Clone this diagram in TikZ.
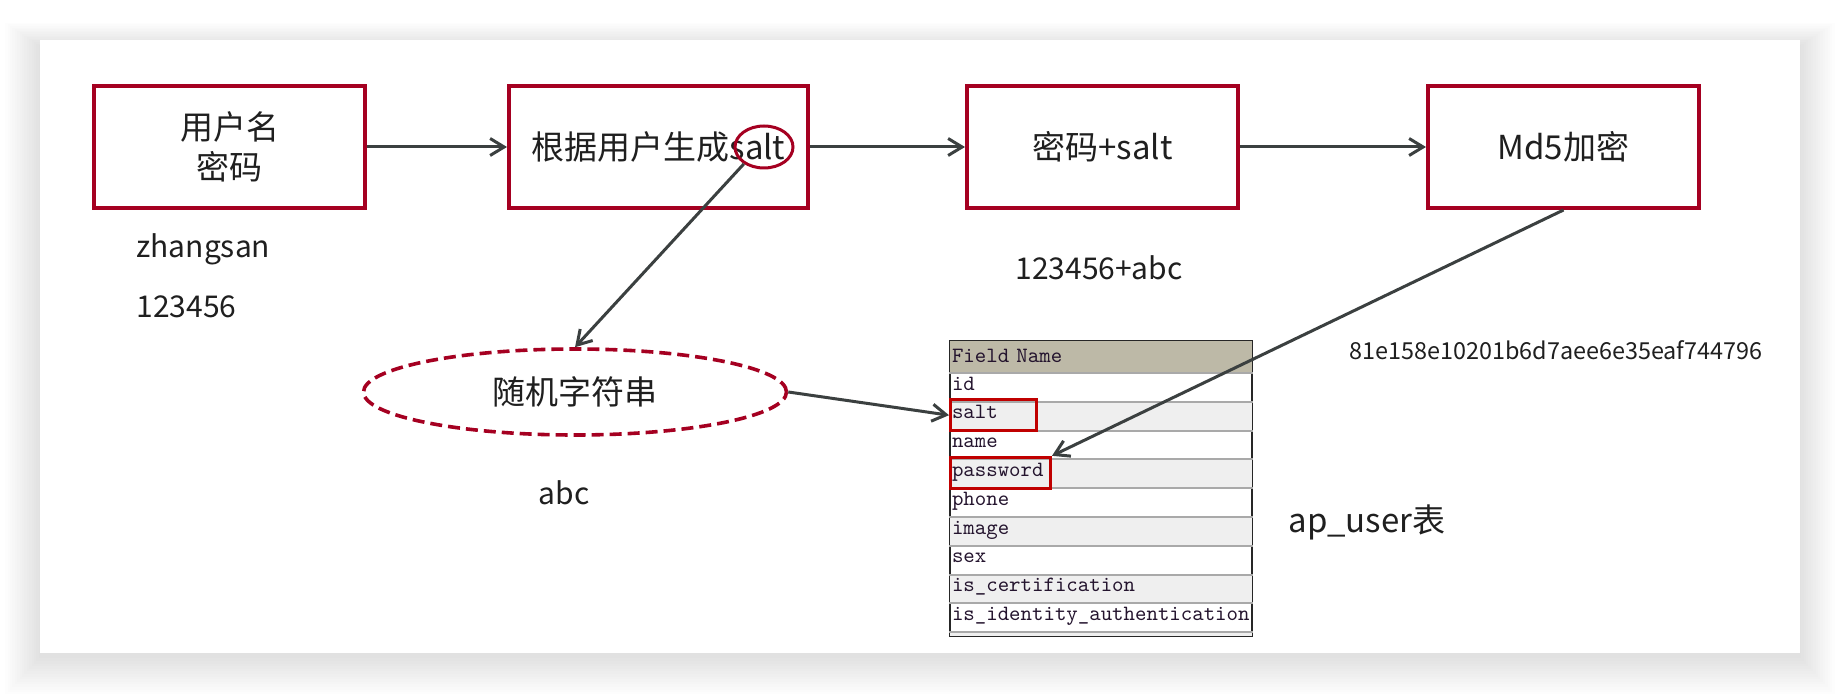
\documentclass[tikz,border=0pt]{standalone}
\usepackage{fontspec}
\setmainfont{Noto Sans CJK SC}
\usepackage{xcolor}
\usetikzlibrary{arrows.meta}
\usetikzlibrary{matrix}
\usetikzlibrary{shapes.geometric}
\definecolor{boxred}{HTML}{A50021}
\definecolor{markred}{HTML}{C00000}
\definecolor{linegray}{HTML}{3B4040}
\definecolor{headfill}{HTML}{BDB9A7}
\definecolor{rowfill}{HTML}{EFEFEF}
\definecolor{rowgray}{HTML}{A9A9A9}
\definecolor{fieldink}{HTML}{24142E}
\colorlet{inkcolor}{black!88}
\newcommand\stagefont{\fontsize{16.5}{20}\selectfont\color{inkcolor}}
\newcommand\notefont{\fontsize{15}{18}\selectfont\color{inkcolor}}
\newcommand\hashfont{\fontsize{11.7}{14}\selectfont\color{inkcolor}}
\newcommand\fieldfont{\fontsize{10.9}{12}\ttfamily\color{fieldink}}
\tikzstyle{stage}=[draw=boxred,line width=2pt,fill=white,minimum width=135.5pt,minimum height=61pt,inner sep=0pt,align=center,font=\stagefont]
\tikzstyle{ring}=[ellipse,draw=boxred,line width=1.5pt,minimum width=29pt,minimum height=21pt,inner sep=0pt]
\tikzstyle{randnode}=[ellipse,draw=boxred,dashed,dash pattern=on 6pt off 3pt,line width=1.8pt,fill=white,minimum width=211.5pt,minimum height=43pt,inner sep=0pt,font=\stagefont]
\tikzstyle{note}=[inner sep=0pt,font=\notefont]
\tikzstyle{hashnote}=[inner sep=0pt,font=\hashfont]
\tikzstyle{flowhead}=[>/.tip={Straight Barb[length=7pt,width=8.5pt]}]
\tikzstyle{flow}=[draw=linegray,line width=1.5pt,flowhead,->]
\tikzstyle{field}=[text width=149pt,align=left,inner xsep=1pt,inner ysep=0pt,text height=9pt,text depth=5.4pt,font=\fieldfont]
\tikzstyle{fieldhead}=[fill=headfill,text height=10.5pt,text depth=5pt]
\tikzstyle{alt}=[fill=rowfill]
\tikzstyle{tail}=[fill=rowfill,text height=0pt,text depth=2.5pt]
\tikzstyle{fieldtab}=[matrix of nodes,inner sep=0pt,row sep=0pt,draw=black!85,line width=1pt,nodes={field}]
\tikzstyle{hilite}=[draw=markred,line width=1.5pt,minimum height=15.5pt,inner sep=0pt]

\begin{document}
\begin{tikzpicture}[x=0.5pt,y=-0.5pt]
	\useasboundingbox (0,0) rectangle (1840,694);
	\fill[white] (0,0) rectangle (1840,694);
	% soft shadow of the sheet
	\foreach \d in {1,3,...,29}
		\fill[black,opacity=0.006] (40-1.2*\d,40-0.8*\d+6) rectangle (1800+1.2*\d,657+1.3*\d);
	\fill[white] (40,40) rectangle (1800,653);

	% top row
	\node[stage] (user) at (229.5,147) {用户名\\密码};
	\node[stage,minimum width=149.5pt] (gen) at (658.5,147) {根据用户生成salt};
	\node[stage] (mix) at (1102.5,147) {密码+salt};
	\node[stage] (md5) at (1563.5,147) {Md5加密};
	\node[ring] (ring) at (764,147) {};
	\draw[flow] (user) -- (gen);
	\draw[flow] (gen) -- (mix);
	\draw[flow] (mix) -- (md5);

	\node[note,anchor=base west] (uname) at (136,258) {zhangsan};
	\node[note,anchor=base west] (upass) at (136,318) {123456};
	\node[note,anchor=base west] (mixval) at (1015,280) {123456+abc};
	\node[hashnote,anchor=base west] (hashval) at (1349,360) {81e158e10201b6d7aee6e35eaf744796};

	\node[randnode] (rand) at (575,392) {随机字符串};
	\node[note,anchor=base] (randval) at (564,504) {abc};

	% ap_user
	\matrix[fieldtab,anchor=north west] (tbl) at (949,340) {
		|[fieldhead]| Field Name \\
		id \\
		|[alt]| salt \\
		name \\
		|[alt]| password \\
		phone \\
		|[alt]| image \\
		sex \\
		|[alt]| is\_certification \\
		is\_identity\_authentication \\
		|[tail]| \mbox{} \\
	};
	\foreach \r in {1,...,10}
		\draw[rowgray,line width=1pt] (tbl-\r-1.south west) -- (tbl-\r-1.south east);
	\node[hilite,minimum width=43pt,anchor=west] (saltmark) at (tbl-3-1.west) {};
	\node[hilite,minimum width=50pt,anchor=west] (passmark) at (tbl-5-1.west) {};
	\node[note,anchor=base west,font=\fontsize{16.5}{19}\selectfont\color{inkcolor}] (tname) at (1288,532) {ap\_user表};

	\draw[flow] (ring.220) -- (rand.north);
	\draw[flow] (rand.east) -- (saltmark.west);
	\draw[flow] (md5.south) -- (passmark.north east);
\end{tikzpicture}
\end{document}
